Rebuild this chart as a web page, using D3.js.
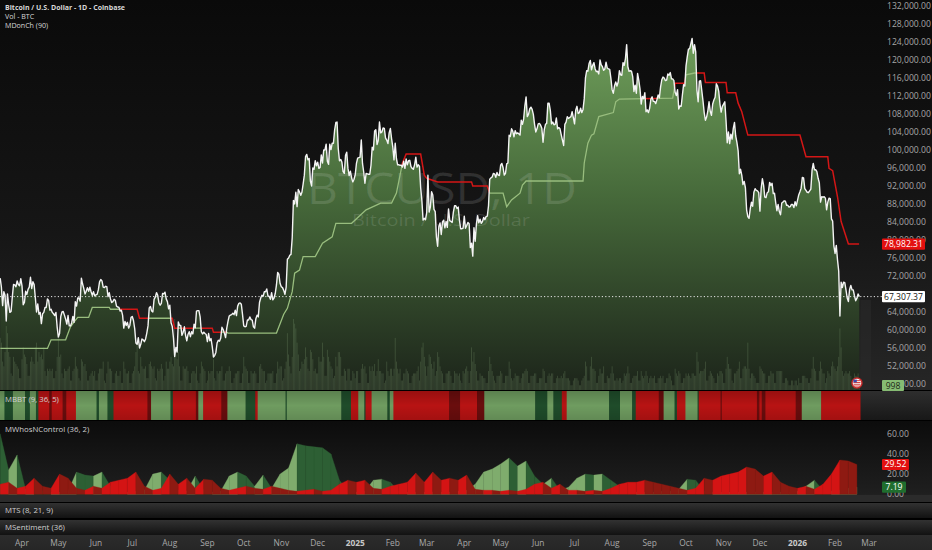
<!DOCTYPE html>
<html><head><meta charset="utf-8">
<script src="https://cdn.jsdelivr.net/npm/d3@7"></script>
<style>html,body{margin:0;padding:0;background:#000;overflow:hidden}svg{display:block}text{font-family:"Open Sans",Roboto,sans-serif}</style>
</head><body><svg id="c" width="932" height="550"></svg>
<script>
// ---------------- DATA ----------------
const startDate = "2024-03-14";           // first daily bar
// daily closes, thousands of USD
const closeK = [
71.4,69.4,65.3,68.4,67.6,61.9,67.9,65.5,63.8,64.0,67.2,70.0,69.9,69.5,70.8,70.0,69.7,71.3,
69.7,65.5,66.0,68.5,67.8,68.9,69.4,71.6,69.1,70.6,70.0,67.1,63.9,65.7,63.4,63.8,61.3,63.5,63.8,64.9,64.9,66.8,66.4,64.3,64.5,63.8,63.5,63.1,63.8,60.6,
58.3,59.1,62.9,63.9,64.0,63.2,62.3,61.2,63.1,60.8,60.8,61.5,62.9,61.6,66.2,65.2,67.0,67.0,66.3,71.4,70.1,69.1,67.9,68.5,69.3,68.5,69.4,68.4,67.6,68.4,67.5,
67.7,67.8,68.8,70.6,71.1,70.8,69.4,69.3,69.6,69.5,67.3,68.2,66.8,66.0,66.2,66.7,66.5,65.2,65.0,64.9,64.1,64.3,63.2,60.3,61.8,60.9,61.6,60.3,60.9,62.7,
62.9,62.0,60.2,57.0,56.7,58.2,55.9,56.7,57.9,57.7,57.3,57.9,59.2,60.8,64.8,65.1,64.1,63.9,66.7,67.2,68.2,67.6,65.9,65.4,65.8,68.0,67.9,68.3,66.8,66.2,64.6,
65.4,61.5,60.7,58.1,54.0,56.0,55.0,61.7,60.9,60.9,58.7,59.4,60.6,58.7,57.5,58.9,59.5,58.4,59.5,59.0,61.2,60.4,64.1,64.2,64.2,62.8,59.5,59.0,59.4,59.1,58.9,
57.3,59.1,57.5,58.0,56.2,53.9,54.2,54.9,57.0,57.6,57.4,58.1,60.5,60.0,59.2,58.2,60.3,61.8,63.0,63.2,63.3,63.6,63.3,64.3,63.1,65.2,65.8,65.9,65.6,63.3,
60.8,60.6,60.7,62.1,62.1,62.8,62.2,62.1,60.6,60.3,62.4,63.2,62.8,66.0,67.0,67.6,67.4,68.4,68.4,69.0,67.4,67.4,66.7,68.2,66.6,67.0,68.0,69.9,72.7,72.3,70.2,
69.5,69.3,68.7,67.8,69.4,75.6,75.9,76.5,76.7,80.4,88.7,87.9,90.5,87.3,91.1,90.6,89.8,90.5,92.3,94.3,98.4,98.9,97.7,98.0,93.0,91.9,95.9,95.6,97.5,96.4,
97.2,95.8,96.0,98.8,97.0,99.9,99.9,101.2,97.4,96.7,101.2,100.0,101.4,101.4,104.3,106.0,106.1,100.2,97.5,97.8,97.2,95.1,94.7,98.7,99.4,95.8,94.2,95.2,93.7,92.8,93.4,
94.4,96.9,98.1,98.2,98.3,102.1,96.9,95.0,92.5,94.7,94.6,94.5,94.5,96.5,100.5,99.9,104.1,104.4,101.1,102.0,106.1,103.7,103.9,104.8,104.7,102.6,102.1,101.3,103.7,104.7,102.4,
100.6,97.7,101.4,98.0,96.6,96.6,96.5,96.5,96.1,97.4,95.8,97.9,96.6,97.5,97.6,96.2,95.8,95.6,96.6,98.3,96.1,96.6,96.3,91.5,88.7,84.3,84.7,84.4,
86.0,94.3,86.1,87.2,90.6,89.9,86.7,86.2,80.6,78.5,82.9,83.7,81.1,83.9,84.3,82.6,84.0,82.7,86.8,84.2,84.0,83.8,86.1,87.5,87.5,86.9,87.2,84.3,82.4,82.4,82.5,
85.2,82.5,83.1,83.8,83.5,78.2,79.2,76.3,82.6,79.6,83.4,85.3,83.7,84.5,83.6,84.0,84.9,84.4,85.1,85.2,87.5,93.4,93.7,93.9,94.7,94.6,93.8,94.9,94.3,94.2,
96.5,96.9,96.0,94.3,94.7,96.8,97.0,103.2,102.9,104.6,104.1,102.8,104.2,103.5,103.7,103.5,103.2,106.5,105.6,106.8,109.7,111.7,107.3,107.8,109.0,109.4,108.9,107.8,105.6,103.9,104.6,
105.7,105.8,105.4,104.7,101.6,104.4,105.6,105.8,110.3,110.3,108.7,105.7,106.1,105.5,105.6,107.0,104.6,104.9,104.6,103.3,102.1,100.9,105.6,106.1,107.3,106.9,107.1,107.3,108.4,107.1,
105.7,108.8,109.6,108.0,108.2,109.2,108.2,108.9,111.3,115.9,117.5,117.4,119.1,119.8,117.7,118.7,119.3,117.9,117.3,117.4,116.8,119.9,118.8,118.4,117.6,117.9,119.4,118.1,117.9,117.8,115.8,
113.3,112.5,114.2,115.0,114.1,115.0,117.5,116.6,116.5,119.3,118.7,120.2,123.3,118.4,117.4,117.5,117.4,116.2,112.9,114.3,112.5,116.9,115.4,113.5,110.1,111.8,111.3,112.6,108.4,108.8,108.2,
109.2,111.2,111.7,110.7,110.7,110.2,111.1,112.1,111.5,113.9,115.5,116.1,115.9,115.3,115.4,116.8,116.5,117.1,115.7,115.7,115.3,112.7,112.0,113.3,109.0,109.7,109.6,112.1,114.4,114.1,
118.6,120.6,122.3,122.4,123.5,124.7,121.4,123.3,121.7,113.2,110.6,115.2,115.3,113.1,110.8,108.2,106.5,107.2,108.6,110.6,108.5,107.6,110.1,111.0,111.6,114.6,114.1,112.9,110.1,108.3,109.6,
110.1,110.6,106.5,101.5,103.9,101.3,103.4,102.3,104.7,106.0,103.0,101.6,99.7,94.6,95.6,94.3,92.2,92.9,91.5,86.6,85.1,84.7,86.8,88.3,87.4,90.5,91.3,90.9,90.8,90.4,
86.3,91.3,93.5,92.1,89.4,89.3,90.4,90.6,92.7,92.0,92.5,90.2,90.3,88.2,86.4,87.8,86.2,85.5,88.1,88.3,88.6,88.5,87.6,87.6,87.2,87.3,87.8,87.8,87.1,88.4,87.5,
88.7,89.9,90.6,91.4,93.8,93.7,91.3,90.9,90.5,90.4,90.8,91.2,95.4,96.9,95.5,95.5,95.1,93.6,92.6,88.3,89.5,89.4,89.5,89.2,86.6,88.3,89.2,89.1,84.6,84.1,78.6,
76.9,78.7,75.5,73.0,63.0,70.5,69.3,70.5,70.4,68.8,67.0,66.2,68.9,69.8,68.8,68.8,67.5,66.4,66.9,67.9,67.30737
];
// daily volume, thousands of BTC
const volumeK = [
22,20,12,10,16,27,24,16,14,7,6,14,12,11,10,9,5,5,
13,18,15,14,11,6,6,12,14,12,11,18,20,12,16,14,15,13,18,8,6,9,8,9,8,9,5,5,8,14,
22,14,15,7,5,9,8,8,9,10,4,4,8,9,14,10,9,5,4,13,12,10,11,8,4,4,6,7,8,6,8,
4,4,7,9,9,9,12,4,3,7,12,9,9,8,3,3,7,8,6,6,8,3,3,12,9,7,7,8,3,3,
7,8,10,16,22,8,7,14,10,9,9,10,5,5,11,12,10,9,10,5,4,9,8,9,11,9,4,6,12,9,9,
12,14,11,10,30,15,13,16,10,4,4,10,9,9,10,8,3,3,7,8,8,7,10,4,3,7,12,10,9,8,3,
4,8,7,8,8,13,5,4,8,7,8,8,10,4,4,7,8,8,10,8,3,3,5,7,7,8,8,3,3,7,
14,10,9,8,3,3,8,7,7,8,7,3,3,10,11,9,8,8,3,4,7,7,7,7,8,3,3,7,12,9,10,
10,4,5,9,12,24,15,10,7,14,30,28,26,20,15,8,9,12,11,13,18,14,9,8,17,16,13,8,9,7,
7,14,12,12,20,14,6,6,17,14,12,10,9,5,6,14,10,16,16,14,6,6,9,8,4,9,9,4,4,8,7,
5,8,8,3,3,9,11,9,10,7,3,3,10,8,10,8,11,6,8,13,8,8,7,7,3,4,12,8,6,9,9,
6,9,22,12,9,7,9,4,4,7,7,9,8,7,3,3,6,7,7,7,8,10,4,12,18,20,14,10,
6,10,15,14,11,9,12,6,8,16,14,10,8,7,3,3,7,7,8,8,6,3,3,8,7,7,6,7,4,3,8,
7,9,10,8,3,8,18,12,16,11,8,4,4,7,6,6,5,5,3,3,8,14,11,8,6,4,3,6,6,6,
8,7,3,3,6,6,6,12,9,5,4,5,7,6,6,6,3,5,7,7,8,9,8,3,3,6,6,6,7,7,3,
3,5,5,5,9,8,3,3,6,7,6,7,7,3,3,5,6,5,5,6,5,7,8,5,5,5,4,2,2,4,
5,5,5,4,2,2,4,5,6,12,10,4,4,10,14,9,9,8,3,3,6,9,7,7,10,3,3,6,5,5,7,
10,7,4,4,5,4,5,5,3,4,7,6,7,10,7,3,3,5,6,6,6,8,4,4,8,6,5,6,8,6,3,
5,6,5,5,6,3,3,5,5,6,5,6,3,3,5,5,7,6,4,2,2,9,7,6,8,7,3,3,5,5,
7,6,7,6,5,7,7,6,6,16,12,7,8,8,8,9,12,4,4,6,8,7,6,5,3,3,7,6,8,8,7,
3,3,9,14,11,9,9,4,3,7,7,8,9,12,5,5,9,10,10,9,20,9,5,7,7,6,5,3,3,3,
10,9,8,7,7,3,3,6,6,8,7,7,3,3,8,8,8,8,8,3,3,5,5,4,2,2,4,4,2,4,4,
2,5,3,3,6,6,6,5,5,3,3,5,9,14,9,8,4,4,8,12,9,7,7,3,5,8,7,6,10,12,10,
9,8,10,14,26,18,8,6,7,8,7,7,8,6,4,5,7,6,6,7,1
];
// MDonCh (90) midline vertices
const donchianDates = ["2024-03-14","2024-04-22","2024-04-25","2024-05-07","2024-05-11","2024-05-14","2024-05-17","2024-05-26","2024-05-29","2024-06-12","2024-06-13","2024-07-05","2024-07-07","2024-08-03","2024-08-05","2024-09-05","2024-09-06","2024-09-17","2024-09-18","2024-10-28","2024-11-03","2024-11-06","2024-11-10","2024-11-12","2024-11-16","2024-11-19","2024-11-29","2024-12-05","2024-12-13","2024-12-16","2024-12-29","2025-01-10","2025-01-22","2025-01-31","2025-02-04","2025-02-07","2025-02-09","2025-02-12","2025-02-24","2025-02-27","2025-03-01","2025-03-10","2025-04-07","2025-04-08","2025-04-20","2025-04-22","2025-05-03","2025-05-06","2025-05-10","2025-05-17","2025-05-19","2025-05-22","2025-07-08","2025-07-09","2025-07-12","2025-07-15","2025-07-17","2025-07-21","2025-08-02","2025-08-04","2025-08-07","2025-09-20","2025-09-22","2025-09-30","2025-10-01","2025-10-08","2025-10-16","2025-10-17","2025-11-03","2025-11-04","2025-11-11","2025-11-13","2025-11-16","2025-11-21","2026-01-03","2026-01-08","2026-01-26","2026-01-27","2026-01-30","2026-02-03","2026-02-06","2026-02-12","2026-02-21"];
const donchianK = [55.8,55.8,57.7,57.7,60.6,61.7,62.7,62.7,64.9,64.9,64.5,64.5,62.5,62.5,60.3,60.3,59.4,59.4,59.2,59.2,63.4,64.7,68.4,72.5,73.2,76.2,76.2,79.2,80.6,83.6,83.6,86.6,88.1,88.1,90.3,94.3,97.0,99.0,99.0,94.3,93.6,92.8,92.8,91.9,91.9,90.3,90.3,87.3,88.8,90.3,92.1,93.0,93.0,97.0,101.4,103.2,103.5,107.3,108.2,110.6,111.2,111.4,114.7,114.7,116.6,117.0,117.0,114.9,114.9,112.6,112.6,110.3,108.4,103.2,103.2,98.4,98.4,95.8,95.3,89.5,84.0,78.98231,78.98231];
// MBBT (9, 36, 5) state blocks: LG light bull, DG dark bull, R bear, DR dark bear
const mbbtDates = ["2024-03-14","2024-03-18","2024-03-25","2024-04-04","2024-04-08","2024-04-13","2024-04-15","2024-04-24","2024-04-26","2024-05-05","2024-05-08","2024-05-16","2024-06-02","2024-06-04","2024-06-11","2024-06-16","2024-07-14","2024-07-17","2024-08-02","2024-08-04","2024-08-23","2024-08-25","2024-08-29","2024-09-13","2024-09-18","2024-10-03","2024-10-11","2024-10-13","2024-11-05","2024-11-06","2024-12-21","2024-12-29","2025-01-04","2025-01-09","2025-01-10","2025-01-15","2025-01-28","2025-01-30","2025-02-02","2025-03-20","2025-03-29","2025-04-12","2025-04-18","2025-05-30","2025-06-09","2025-06-14","2025-06-21","2025-06-25","2025-07-30","2025-08-08","2025-08-18","2025-08-21","2025-09-09","2025-09-13","2025-09-22","2025-09-24","2025-10-01","2025-10-11","2025-10-12","2025-10-30","2025-10-31","2025-11-29","2025-12-01","2025-12-03","2025-12-06","2025-12-31","2026-01-05","2026-01-21"];
const mbbtStates = ["LG","DG","LG","DG","LG","DG","R","DR","R","DR","R","LG","DG","LG","DG","R","DR","LG","DG","R","DR","LG","R","DR","LG","DG","R","LG","DG","LG","DG","R","LG","DG","R","LG","DG","LG","R","DR","R","DR","LG","DG","LG","DG","R","LG","DG","LG","DG","R","DR","LG","DG","R","LG","DG","R","DR","R","DR","R","DR","R","DR","LG","R"];
// MWhosNControl (36, 2): weekly samples (every 7 days from start)
const ctrlBull = [60,24,39,5,15,3,2,2,3,22,19,18,22,8,3,2,3,4,20,22,14,4,3,18,4,2,3,18,22,18,8,19,6,20,26,50,48,47,46,40,14,3,2,3,14,15,12,3,2,2,2,2,2,2,3,4,10,22,25,30,36,28,33,18,10,16,4,7,16,20,19,20,14,8,4,2,2,2,3,3,5,15,14,3,2,2,2,2,2,2,2,2,2,2,3,8,14,4,3,4,6,7.19];
const ctrlBear = [10,12,6,8,16,8,6,20,16,6,4,8,6,12,14,16,22,8,4,6,20,10,16,6,15,14,6,4,6,8,6,5,8,6,4,3,4,5,3,4,10,14,12,14,6,5,8,10,12,21,12,22,14,16,14,19,5,4,4,3,4,3,5,10,12,6,10,4,4,3,4,3,6,10,12,12,14,12,10,8,6,4,6,16,14,18,20,22,27,25,18,22,12,8,6,8,5,10,20,34,33,29.52];
// 68,000 sits fully under the last-price tag in the reference, so it is not listed
const priceTicks = [132000,128000,124000,120000,116000,112000,108000,104000,100000,96000,92000,88000,84000,80000,76000,72000,64000,60000,56000,52000,48000];
const ctrlTicks = [60,40,20,0];
const monthTicks = ["2024-04-01","2024-05-01","2024-06-01","2024-07-01","2024-08-01","2024-09-01","2024-10-01","2024-11-01","2024-12-01","2025-01-01","2025-02-01","2025-03-01","2025-04-01","2025-05-01","2025-06-01","2025-07-01","2025-08-01","2025-09-01","2025-10-01","2025-11-01","2025-12-01","2026-01-01","2026-02-01","2026-03-01"];
const monthLabels = ["Apr","May","Jun","Jul","Aug","Sep","Oct","Nov","Dec","2025","Feb","Mar","Apr","May","Jun","Jul","Aug","Sep","Oct","Nov","Dec","2026","Feb","Mar"];
const lastVolumeLabel = "998";

// ---------------- CHART ----------------
const svg = d3.select("#c");
const parse = d3.utcParse("%Y-%m-%d");
const t0 = parse(startDate);
const days = closeK.map((c,i)=>({date:d3.utcDay.offset(t0,i), close:c*1000, vol:volumeK[i]}));
const lastDay = days[days.length-1];

const x = d3.scaleUtc().domain([parse("2024-04-01"), parse("2026-03-01")]).range([22,869]);
const y = d3.scaleLinear().domain([48000,132000]).range([383.5,5.5]);
const yv = d3.scaleLinear().domain([0,38]).range([390,300]);
const yc = d3.scaleLinear().domain([0,60]).range([494.3,433.7]);
const fmtP = d3.format(",.2f");

const defs = svg.append("defs");
function vgrad(id, stops, y1, y2){
  const g = defs.append("linearGradient").attr("id",id).attr("x1",0).attr("x2",0);
  if(y1!==undefined){g.attr("gradientUnits","userSpaceOnUse").attr("y1",y1).attr("y2",y2);} else {g.attr("y1",0).attr("y2",1);}
  stops.forEach(s=>g.append("stop").attr("offset",s[0]).attr("stop-color",s[1]).attr("stop-opacity",s[2]===undefined?1:s[2]));
}
vgrad("bgMain",[[0,"#0a0a0a"],[0.6,"#161616"],[1,"#262626"]]);
vgrad("fillArea",[[0,"#6e9d5a"],[0.45,"#46693a"],[1,"#1c241a"]],40,390);
vgrad("bgCtrl",[[0,"#0c0c0c"],[1,"#1f1f1f"]]);
vgrad("bgSub",[[0,"#323232"],[1,"#121212"]]);
vgrad("bgAxis",[[0,"#2c2c2c"],[1,"#262626"]]);
vgrad("mbbtShade",[[0,"#000",0.18],[0.5,"#000",0.0],[1,"#000",0.12]]);
vgrad("mbbtEmpty",[[0,"#2e2e2e"],[1,"#181818"]]);

svg.append("rect").attr("width",932).attr("height",550).attr("fill","#000");
// main pane
svg.append("rect").attr("x",0).attr("y",0).attr("width",932).attr("height",390).attr("fill","url(#bgMain)");

const main = svg.append("g");
defs.append("clipPath").attr("id","mainClip").append("rect").attr("x",0).attr("y",0).attr("width",871).attr("height",390);
const mg = main.append("g").attr("clip-path","url(#mainClip)");

// area under price
const area = d3.area().x(d=>x(d.date)).y0(390).y1(d=>y(d.close));
mg.append("path").datum(days).attr("d",area).attr("fill","url(#fillArea)");

// volume
mg.append("g").selectAll("rect").data(days).join("rect")
  .attr("x",d=>x(d.date)-0.45).attr("width",0.9)
  .attr("y",d=>yv(d.vol)).attr("height",d=>390-yv(d.vol))
  .attr("fill","#7d9a70").attr("opacity",0.3);
// faint band after the last bar
mg.append("rect").attr("x",x(lastDay.date)+1).attr("y",300).attr("width",871-x(lastDay.date)-1).attr("height",90).attr("fill","#2a2a2a").attr("opacity",0.6);

// watermark
mg.append("text").attr("x",442).attr("y",204).attr("text-anchor","middle").attr("font-size",44)
  .attr("textLength",270).attr("lengthAdjust","spacingAndGlyphs")
  .attr("fill","#fff").attr("fill-opacity",0.12).text("BTCUSD, 1D");
mg.append("text").attr("x",441).attr("y",226).attr("text-anchor","middle").attr("font-size",17)
  .attr("textLength",178).attr("lengthAdjust","spacingAndGlyphs")
  .attr("fill","#fff").attr("fill-opacity",0.12).text("Bitcoin / U.S. Dollar");

// donchian midline, coloured by price above/below
const midPts = donchianDates.map((d,i)=>({date:parse(d), v:donchianK[i]*1000}));
const midLine = d3.line().x(d=>x(d.date)).y(d=>y(d.v));
const belowPrice = d3.area().x(d=>x(d.date)).y0(400).y1(d=>y(d.close));
const abovePrice = d3.area().x(d=>x(d.date)).y0(-10).y1(d=>y(d.close));
defs.append("clipPath").attr("id","clipBelow").append("path").datum(days).attr("d",belowPrice);
defs.append("clipPath").attr("id","clipAbove").append("path").datum(days).attr("d",abovePrice);
mg.append("path").datum(midPts).attr("d",midLine).attr("fill","none").attr("stroke","#98bd7e").attr("stroke-width",1.3).attr("clip-path","url(#clipBelow)");
mg.append("path").datum(midPts).attr("d",midLine).attr("fill","none").attr("stroke","#d41616").attr("stroke-width",1.5).attr("clip-path","url(#clipAbove)");

// price line
const line = d3.line().x(d=>x(d.date)).y(d=>y(d.close));
mg.append("path").datum(days).attr("d",line).attr("fill","none").attr("stroke","#f4f4f4").attr("stroke-width",1.4).attr("stroke-linejoin","round");

// last price dotted line
svg.append("line").attr("x1",0).attr("x2",882).attr("y1",y(lastDay.close)).attr("y2",y(lastDay.close))
  .attr("stroke","#e8e8e8").attr("stroke-width",1).attr("stroke-dasharray","1.2,2.2");

// price scale
svg.append("g").selectAll("text").data(priceTicks).join("text")
  .attr("x",887).attr("y",d=>y(d)).attr("dy","0.35em").attr("font-size",8.6).attr("fill","#a6a6a6").text(d=>fmtP(d));

function tag(cx, cy, w, fill, txt, tfill){
  svg.append("rect").attr("x",cx).attr("y",cy-5.6).attr("width",w).attr("height",11.2).attr("rx",1).attr("fill",fill);
  svg.append("text").attr("x",cx+w/2).attr("y",cy).attr("dy","0.35em").attr("text-anchor","middle").attr("font-size",8.6).attr("fill",tfill).text(txt);
}
tag(882, y(donchianK[donchianK.length-1]*1000), 43, "#e3100f", fmtP(donchianK[donchianK.length-1]*1000), "#fff");
tag(882, y(lastDay.close), 43, "#ffffff", fmtP(lastDay.close), "#131313");
tag(882, 385.5, 22, "#86bb73", lastVolumeLabel, "#1c2a17");

// US flag marker
const fl = svg.append("g").attr("transform","translate(857,383)");
fl.append("circle").attr("r",5).attr("fill","#f4f4f4").attr("stroke","#c62828").attr("stroke-width",1.4);
[-2.4,-0.6,1.2,3].forEach(v=>fl.append("rect").attr("x",-3.5).attr("y",v-0.4).attr("width",7).attr("height",0.9).attr("fill","#d32f2f"));
fl.append("rect").attr("x",-3.6).attr("y",-3.4).attr("width",3.4).attr("height",2.8).attr("fill","#3949ab");

// legend
const lg = svg.append("g").attr("fill","#d8d8d8");
lg.append("text").attr("x",5).attr("y",10).attr("font-size",7).attr("font-weight","bold").text("Bitcoin / U.S. Dollar - 1D - Coinbase");
lg.append("text").attr("x",5).attr("y",19).attr("font-size",7.1).text("Vol - BTC");
lg.append("text").attr("x",5).attr("y",28).attr("font-size",7.1).text("MDonCh (90)");

// ---- MBBT pane ----
svg.append("rect").attr("x",0).attr("y",391).attr("width",932).attr("height",29).attr("fill","url(#mbbtEmpty)");
const stateCol = {LG:"#6f9c60",DG:"#1f4c2a",R:"#b81313",DR:"#6a0d0d"};
const endDate = d3.utcDay.offset(lastDay.date,1);
const segs = mbbtDates.map((d,i)=>({s:parse(d), e: i<mbbtDates.length-1?parse(mbbtDates[i+1]):endDate, st:mbbtStates[i]}));
svg.append("g").selectAll("rect").data(segs).join("rect")
  .attr("x",d=>Math.max(0,x(d.s)-0.6)).attr("y",391)
  .attr("width",d=>x(d.e)-Math.max(0,x(d.s)-0.6)).attr("height",29)
  .attr("fill",d=>stateCol[d.st]);
svg.append("rect").attr("x",0).attr("y",391).attr("width",x(endDate)).attr("height",29).attr("fill","url(#mbbtShade)");
svg.append("text").attr("x",5).attr("y",402).attr("font-size",7.8).attr("fill","#d0d0d0").text("MBBT (9, 36, 5)");

// ---- MWhosNControl pane ----
svg.append("rect").attr("x",0).attr("y",421).attr("width",932).attr("height",73.3).attr("fill","url(#bgCtrl)");
svg.append("rect").attr("x",0).attr("y",494.3).attr("width",932).attr("height",7.7).attr("fill","#2b2b2b");
const wDate = i=>d3.utcDay.offset(t0, Math.min(i*7, closeK.length-1));
const cg = svg.append("g");
function ctrlSeries(arr, up, down){
  for(let i=0;i<arr.length-1;i++){
    const x0=x(wDate(i)), x1=x(wDate(i+1));
    cg.append("path").attr("d",`M${x0},${yc(0)}L${x0},${yc(arr[i])}L${x1},${yc(arr[i+1])}L${x1},${yc(0)}Z`)
      .attr("fill", arr[i+1]>=arr[i]?up:down).attr("stroke",arr[i+1]>=arr[i]?up:down).attr("stroke-width",0.3);
  }
}
ctrlSeries(ctrlBull,"#7fac6d","#2d5f34");
ctrlSeries(ctrlBear,"#d41414","#8e1a12");
svg.append("text").attr("x",5).attr("y",432).attr("font-size",7.8).attr("fill","#cfcfcf").text("MWhosNControl (36, 2)");
svg.append("g").selectAll("text").data(ctrlTicks).join("text")
  .attr("x",887).attr("y",d=>yc(d)).attr("dy","0.35em").attr("font-size",8.6).attr("fill","#a6a6a6").text(d=>d3.format(".2f")(d));
tag(882, yc(ctrlBear[ctrlBear.length-1]), 27, "#e3100f", d3.format(".2f")(ctrlBear[ctrlBear.length-1]), "#fff");
tag(882, yc(ctrlBull[ctrlBull.length-1]), 24, "#1f6e2e", d3.format(".2f")(ctrlBull[ctrlBull.length-1]), "#fff");

// ---- MTS / MSentiment panes ----
svg.append("rect").attr("x",0).attr("y",503).attr("width",932).attr("height",15).attr("fill","url(#bgSub)");
svg.append("text").attr("x",5).attr("y",513).attr("font-size",7.8).attr("fill","#cfcfcf").text("MTS (8, 21, 9)");
svg.append("rect").attr("x",0).attr("y",520).attr("width",932).attr("height",15).attr("fill","url(#bgSub)");
svg.append("text").attr("x",5).attr("y",530).attr("font-size",7.8).attr("fill","#cfcfcf").text("MSentiment (36)");

// ---- time axis ----
svg.append("rect").attr("x",0).attr("y",535).attr("width",932).attr("height",15).attr("fill","url(#bgAxis)");
svg.append("g").selectAll("text").data(monthTicks).join("text")
  .attr("x",d=>x(parse(d))).attr("y",546).attr("text-anchor","middle").attr("font-size",8.4)
  .attr("font-weight",(d,i)=>/^\d{4}$/.test(monthLabels[i])?"bold":"normal")
  .attr("fill",(d,i)=>/^\d{4}$/.test(monthLabels[i])?"#c8c8c8":"#a8a8a8")
  .text((d,i)=>monthLabels[i]);
</script></body></html>
